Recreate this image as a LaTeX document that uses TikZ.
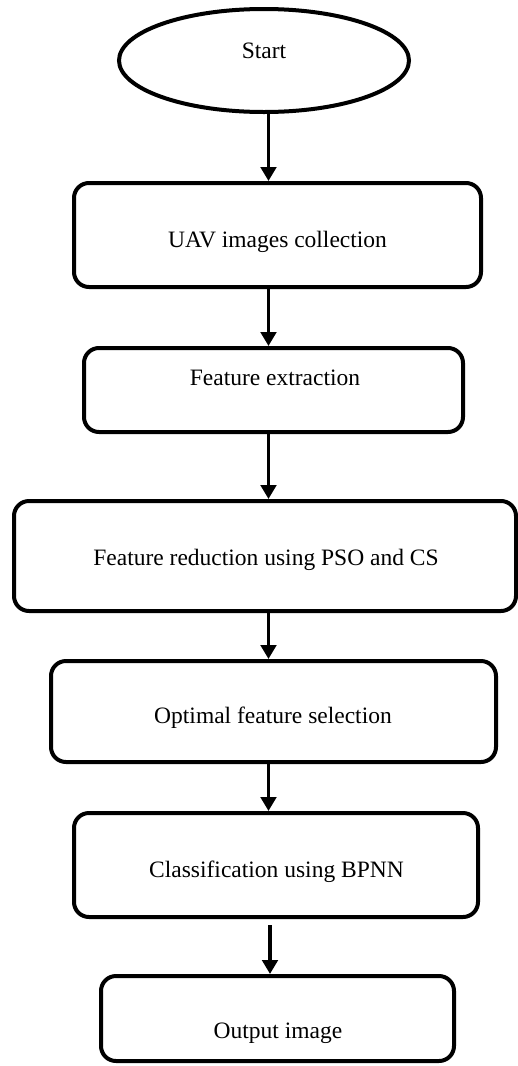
\documentclass[tikz,border=0pt]{standalone}
\usepackage{fontspec}
\setmainfont{Liberation Serif}
\usetikzlibrary{arrows.meta,shapes.geometric}
\begin{document}
\begin{tikzpicture}[x=1pt,y=-1pt,
  flowbox/.style={draw=black,line width=4pt,rounded corners=15pt,inner sep=0pt},
  lbl/.style={font=\fontsize{23.5}{28}\selectfont,inner sep=0pt},
  flowarrow/.style={line width=3.4pt,-{Triangle[width=15.5pt,length=14pt]}}]
\useasboundingbox (0,0) rectangle (517,1066);
\node[draw=black,line width=4pt,ellipse,minimum width=290pt,minimum height=103pt,inner sep=0pt] (start) at (264,60.5) {};
\node[lbl] (tstart) at (264,51) {Start};
\node[flowbox,minimum width=407pt,minimum height=104pt] (b1) at (277.5,235) {};
\node[lbl] (t1) at (277.5,242) {UAV images collection};
\node[flowbox,minimum width=379pt,minimum height=84pt] (b2) at (273.5,390) {};
\node[lbl] (t2) at (275,378) {Feature extraction};
\node[flowbox,minimum width=502pt,minimum height=110pt] (b3) at (265,556) {};
\node[lbl] (t3) at (266,560) {Feature reduction using PSO and CS};
\node[flowbox,minimum width=445pt,minimum height=101pt] (b4) at (273.5,711.5) {};
\node[lbl] (t4) at (273,718) {Optimal feature selection};
\node[flowbox,minimum width=404pt,minimum height=104pt] (b5) at (276,865) {};
\node[lbl] (t5) at (276.5,872) {Classification using BPNN};
\node[flowbox,minimum width=353pt,minimum height=85pt] (b6) at (277.5,1018.5) {};
\node[lbl] (t6) at (278,1033) {Output image};
\draw[flowarrow] (start.south -| 268.5,0) -- (b1.north -| 268.5,0);
\draw[flowarrow] (b1.south -| 268.5,0) -- (b2.north -| 268.5,0);
\draw[flowarrow] (b2.south -| 268.5,0) -- (b3.north -| 268.5,0);
\draw[flowarrow] (b3.south -| 268.5,0) -- (b4.north -| 268.5,0);
\draw[flowarrow] (b4.south -| 268.5,0) -- (b5.north -| 268.5,0);
\coordinate (a6) at (270,925);
\draw[flowarrow] (a6) -- (b6.north -| a6);
\end{tikzpicture}
\end{document}
